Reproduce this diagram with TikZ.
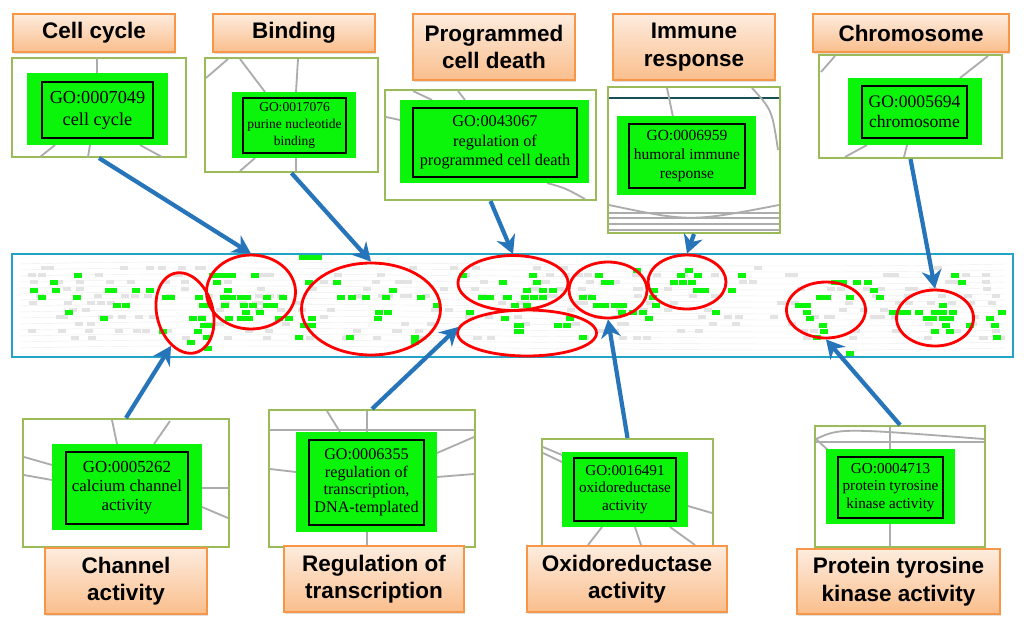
\documentclass[tikz,border=0pt]{standalone}
\usepackage{fontspec}
\setmainfont{Liberation Serif}
\newfontfamily\labelfont{Liberation Sans}
\usetikzlibrary{shapes.geometric,arrows.meta,shadows}

\definecolor{arrowblue}{RGB}{38,117,186}
\definecolor{bandcyan}{RGB}{36,163,200}
\definecolor{frameolive}{RGB}{155,187,89}
\definecolor{labeltop}{RGB}{253,236,222}
\definecolor{labelbot}{RGB}{250,190,140}
\definecolor{labelline}{RGB}{247,150,70}
\definecolor{gonode}{RGB}{10,245,10}
\definecolor{tealline}{RGB}{25,80,85}

\newcommand{\px}{0.025cm}

\tikzset{
  golabel/.style={draw=labelline, line width=0.9pt, top color=labeltop, bottom color=labelbot,
    drop shadow={opacity=0.25,shadow xshift=1pt,shadow yshift=-1.5pt},
    inner sep=0pt, align=center, font=\labelfont\bfseries\fontsize{16}{19.5}\selectfont},
  goframe/.style={draw=frameolive, line width=1.5pt, fill=white, inner sep=0pt},
  gobox/.style={fill=gonode, inner sep=0pt},
  gotext/.style={draw=black, line width=1.1pt, inner sep=0pt, align=center},
  bandbox/.style={draw=bandcyan, line width=1.8pt, inner sep=0pt},
  hilite/.style={ellipse, draw=red, line width=2pt, inner sep=0pt},
  pointer/.style={draw=arrowblue, line width=3pt, -{Stealth[length=13pt,width=14pt]}},
  edgeline/.style={draw=gray!65, line width=1.3pt},
  netnode/.style={fill=gray!22},
  netedge/.style={draw=gray!14, line width=0.3pt},
}

\begin{document}
\begin{tikzpicture}[x=\px, y=-\px]
\useasboundingbox[fill=white] (0,0) rectangle (1024,626);

% Network strip
\node[bandbox, minimum width=1001*\px, minimum height=103*\px] (band) at (512.5,305.5) {};
\foreach \yy in {264,270,...,350}
  \draw[netedge] (20,\yy) .. controls (300,\yy-7) and (700,\yy+7) .. (1005,\yy);
\pgfmathsetseed{42}
\foreach \k in {1,...,260}{
  \pgfmathsetmacro{\nx}{22+rnd*975}
  \pgfmathsetmacro{\ny}{266+7*int(rnd*11)}
  \fill[netnode] (\nx,\ny) rectangle ++(8,3.5);
}
\foreach \gx/\gy in {78/275,54/282,34/290,56/290,42/297,77/297,69/312,104/318,109/290,113/290,
  136/290,150/290,117/305,126/305,166/297,171/297,199/297,213/275,219/275,227/275,232/275,255/275,
  217/282,228/290,203/305,209/305,224/297,232/297,241/297,247/297,267/297,283/297,225/305,244/305,
  253/305,267/305,274/305,246/312,260/312,193/318,202/318,229/318,241/318,249/318,279/318,289/318,
  204/325,211/325,198/331,163/331,207/337,191/342,208/348,303/257,311/257,318/257,309/282,337/282,
  393/290,341/297,352/297,366/297,386/297,421/297,379/312,388/312,312/318,378/318,304/325,312/325,
  299/337,350/337,415/337,415/342,437/305,463/275,503/282,482/297,490/297,508/297,505/318,518/325,
  518/331,470/312,533/275,537/282,527/290,543/290,553/290,507/297,525/297,534/297,543/297,515/305,
  527/305,570/318,520/325,520/331,558/325,567/325,583/337,599/275,605/282,610/282,583/297,592/297,
  597/305,605/305,615/305,623/305,622/312,633/312,643/312,649/318,653/297,656/305,637/270,681/275,
  689/270,698/275,674/282,683/282,692/282,697/290,705/290,654/290,732/290,716/312,742/275,835/282,
  843/282,857/282,868/282,874/290,880/297,850/297,820/297,827/297,799/305,807/305,807/312,810/318,
  823/325,824/331,817/337,850/353,955/275,962/282,893/312,900/312,907/312,919/312,935/312,943/305,
  943/312,953/312,1002/312,927/318,933/318,943/318,950/318,990/318,970/325,995/325,946/325,950/331,
  935/331,997/337}
  \fill[gonode] (\gx-4,\gy-2.5) rectangle ++(8,5);

% Highlighted regions
\node[hilite, minimum width=56*\px, minimum height=82*\px, rotate=15] (ellchan) at (185,313) {};
\node[hilite, minimum width=89*\px, minimum height=74*\px] (ellcell) at (251,292) {};
\node[hilite, minimum width=139*\px, minimum height=92*\px] (ellbind) at (371,309) {};
\node[hilite, minimum width=110*\px, minimum height=55*\px] (ellprog) at (513,283) {};
\node[hilite, minimum width=139*\px, minimum height=46*\px] (ellreg) at (527,333) {};
\node[hilite, minimum width=78*\px, minimum height=56*\px] (ellox) at (608,290) {};
\node[hilite, minimum width=78*\px, minimum height=54*\px] (ellimm) at (687,282) {};
\node[hilite, minimum width=79*\px, minimum height=56*\px] (ellprot) at (826,310) {};
\node[hilite, minimum width=77*\px, minimum height=56*\px] (ellchr) at (935,318) {};

% Top row: cut-outs of the GO graph
\node[goframe, minimum width=174*\px, minimum height=99*\px] (frmcell) at (99,107.5) {};
\draw[edgeline] (97,58) -- (97,73) (55,145) -- (40,157) (90,145) -- (88,157) (140,145) -- (162,157);
\node[gobox, minimum width=141*\px, minimum height=72*\px] (boxcell) at (97.5,109) {};
\node[gotext, minimum width=111*\px, minimum height=56*\px, font=\fontsize{13}{15.5}\selectfont] (gocell) at (97.5,110) {GO:0007049\\cell cycle};

\node[goframe, minimum width=173*\px, minimum height=114*\px] (frmbind) at (291.5,115) {};
\draw[edgeline] (206,78) -- (228,59) (240,59) -- (265,92) (298,59) -- (296,92) (296,158) -- (296,171) (255,158) -- (240,171);
\node[gobox, minimum width=124*\px, minimum height=66*\px] (boxbind) at (294,125) {};
\node[gotext, minimum width=103*\px, minimum height=55*\px, font=\fontsize{9.6}{12}\selectfont] (gobind) at (294.5,125.5) {GO:0017076\\purine nucleotide\\binding};

\node[goframe, minimum width=211*\px, minimum height=110*\px] (frmprog) at (490.5,145) {};
\draw[edgeline] (386,117) -- (400,120) (413,91) -- (432,100) (458,91) -- (465,100);
\draw[edgeline] (547,183) .. controls (565,188) .. (585,199);
\node[gobox, minimum width=189*\px, minimum height=83*\px] (boxprog) at (494.5,141.5) {};
\node[gotext, minimum width=164*\px, minimum height=69*\px, font=\fontsize{11.6}{13.8}\selectfont] (goprog) at (495,142.5) {GO:0043067\\regulation of\\programmed cell death};

\node[goframe, minimum width=172*\px, minimum height=146*\px] (frmimm) at (694,160) {};
\draw[tealline, line width=1.6pt] (609,98) -- (779,98);
\draw[edgeline] (667,88) -- (673,117) (752,88) .. controls (772,110) .. (778,150);
\draw[edgeline] (609,213) -- (779,213) (609,218) -- (779,218) (609,224) -- (779,224) (609,230) -- (779,230);
\draw[edgeline] (609,205) .. controls (690,222) .. (779,205);
\node[gobox, minimum width=139*\px, minimum height=79*\px] (boximm) at (686.5,155.5) {};
\node[gotext, minimum width=116*\px, minimum height=64*\px, font=\fontsize{11}{13.4}\selectfont] (goimm) at (687,156) {GO:0006959\\humoral immune\\response};

\node[goframe, minimum width=183*\px, minimum height=103*\px] (frmchr) at (910.5,106.5) {};
\draw[edgeline] (821,72) -- (835,56) (960,78) -- (988,56) (845,157) -- (867,145) (904,157) -- (907,145);
\node[gobox, minimum width=134*\px, minimum height=67*\px] (boxchr) at (915,111.5) {};
\node[gotext, minimum width=105*\px, minimum height=52*\px, font=\fontsize{12.5}{14.2}\selectfont] (gochr) at (914.5,112) {GO:0005694\\chromosome};

% Top row: category labels
\node[golabel, minimum width=162*\px, minimum height=38*\px] (lblcell) at (94,33) {Cell cycle};
\node[golabel, minimum width=162*\px, minimum height=38*\px] (lblbind) at (294,33) {Binding};
\node[golabel, minimum width=162*\px, minimum height=66*\px] (lblprog) at (494,47) {Programmed\\cell death};
\node[golabel, minimum width=162*\px, minimum height=66*\px] (lblimm) at (694,47) {Immune\\response};
\node[golabel, minimum width=196*\px, minimum height=38*\px] (lblchr) at (911,33) {Chromosome};

% Bottom row: cut-outs of the GO graph
\node[goframe, minimum width=206*\px, minimum height=128*\px] (frmchan) at (126,483) {};
\draw[edgeline] (112,420) -- (117,444) (170,421) -- (154,444) (24,457) -- (52,465) (24,475) -- (52,480) (202,488) -- (228,488) (202,507) -- (228,518);
\node[gobox, minimum width=150*\px, minimum height=86*\px] (boxchan) at (127,487) {};
\node[gotext, minimum width=122*\px, minimum height=72*\px, font=\fontsize{12}{13.4}\selectfont] (gochan) at (127,488) {GO:0005262\\calcium channel\\activity};

\node[goframe, minimum width=206*\px, minimum height=137*\px] (frmreg) at (372,478.5) {};
\draw[edgeline] (327,411) -- (340,432) (367,411) -- (367,432) (270,430) -- (474,430) (270,469) -- (296,472) (437,453) -- (474,437) (437,477) -- (474,474) (367,532) -- (367,546);
\node[gobox, minimum width=141*\px, minimum height=100*\px] (boxreg) at (366.5,482) {};
\node[gotext, minimum width=115*\px, minimum height=85*\px, font=\fontsize{11.5}{12.5}\selectfont] (goreg) at (366.5,482.5) {GO:0006355\\regulation of\\transcription,\\DNA-templated};

\node[goframe, minimum width=171*\px, minimum height=107*\px] (frmoxi) at (627.5,492.5) {};
\draw[edgeline] (543,447) -- (562,455) (543,453) -- (562,462) (688,506) -- (712,513) (602,527) -- (588,545) (635,527) -- (641,545) (670,527) -- (695,545);
\node[gobox, minimum width=126*\px, minimum height=75*\px] (boxoxi) at (625,489.5) {};
\node[gotext, minimum width=102*\px, minimum height=63*\px, font=\fontsize{10.8}{12.4}\selectfont] (gooxi) at (625,489.5) {GO:0016491\\oxidoreductase\\activity};

\node[goframe, minimum width=170*\px, minimum height=121*\px] (frmprot) at (900,486.5) {};
\draw[edgeline] (816,439) .. controls (840,428) .. (984,439) (816,442) -- (984,442) (830,452) -- (816,439) (890,427) -- (890,449) (890,524) -- (890,546);
\node[gobox, minimum width=129*\px, minimum height=75*\px] (boxprot) at (890.5,486.5) {};
\node[gotext, minimum width=105*\px, minimum height=61*\px, font=\fontsize{10.8}{12.4}\selectfont] (goprot) at (890.5,487.5) {GO:0004713\\protein tyrosine\\kinase activity};

% Bottom row: category labels
\node[golabel, minimum width=162*\px, minimum height=66*\px] (lblchan) at (126,581) {Channel\\activity};
\node[golabel, minimum width=180*\px, minimum height=66*\px] (lblreg) at (374,579) {Regulation of\\transcription};
\node[golabel, minimum width=200*\px, minimum height=66*\px] (lbloxi) at (627,579) {Oxidoreductase\\activity};
\node[golabel, minimum width=203*\px, minimum height=65*\px] (lblprot) at (898.5,581.5) {Protein tyrosine\\kinase activity};

% Pointers from cut-outs to regions
\draw[pointer] (frmcell.south) -- (ellcell.north);
\draw[pointer] (frmbind.south) -- (ellbind.north);
\draw[pointer] (frmprog.south) -- (ellprog.north);
\draw[pointer] (frmimm.south) -- (ellimm.north);
\draw[pointer] (frmchr.south) -- (ellchr.north);
\draw[pointer] (frmchan.north) -- (ellchan.232);
\draw[pointer] (frmreg.north) -- (ellreg.175);
\draw[pointer] (frmoxi.north) -- (ellox.south);
\draw[pointer] (frmprot.north) -- (ellprot.south);

\end{tikzpicture}
\end{document}
